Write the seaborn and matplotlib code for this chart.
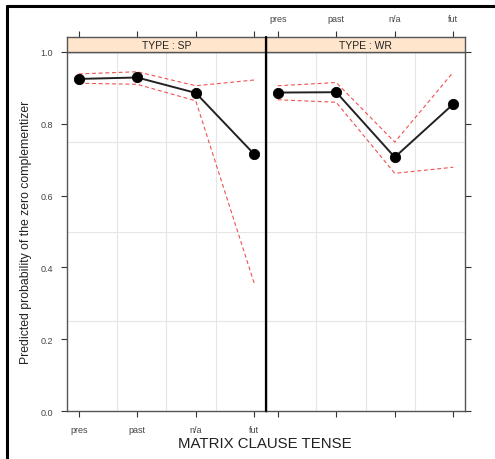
import matplotlib
matplotlib.use("Agg")
import matplotlib.pyplot as plt
import seaborn as sns
import numpy as np
import pandas as pd
from matplotlib.lines import Line2D

# ---- data ----
tenses = ["pres", "past", "n/a", "fut"]
types = ["SP", "WR"]
sp_fit = [0.925, 0.929, 0.886, 0.715]
sp_lower = [0.913, 0.910, 0.864, 0.355]
sp_upper = [0.939, 0.945, 0.906, 0.922]
wr_fit = [0.887, 0.888, 0.707, 0.855]
wr_lower = [0.867, 0.860, 0.662, 0.679]
wr_upper = [0.906, 0.915, 0.749, 0.944]
y_ticks = [0.0, 0.2, 0.4, 0.6, 0.8, 1.0]

sns.set_theme(style="white")
plt.rcParams["font.family"] = ["Liberation Sans", "DejaVu Sans"]

fig = plt.figure(figsize=(4.95, 4.6), dpi=100)

W, H = 495.0, 460.0
def ax_rect(x0, x1, y0, y1):
    return [x0 / W, 1 - y1 / H, (x1 - x0) / W, (y1 - y0) / H]

panels = {
    "SP": (sp_fit, sp_lower, sp_upper),
    "WR": (wr_fit, wr_lower, wr_upper),
}
xs_px = {"SP": (67, 266), "WR": (266, 465)}
top_px, bot_px, strip_top_px = 53, 412, 38
grey = "#555555"
tick_col = "#333333"
lab_col = "#444444"
strip_col = "#ffe5cc"
xlim = (0.8, 4.2)

for i, t in enumerate(types):
    fit, lo, up = panels[t]
    x0, x1 = xs_px[t]
    ax = fig.add_axes(ax_rect(x0, x1, top_px, bot_px))
    df = pd.DataFrame({"pos": np.arange(1, len(tenses) + 1), "fit": fit,
                       "lower": lo, "upper": up})
    for gx in [1.65, 2.5, 3.35]:
        ax.axvline(gx, color="#e6e6e6", lw=0.8, zorder=0)
    for gy in [0.25, 0.5, 0.75]:
        ax.axhline(gy, color="#e6e6e6", lw=0.8, zorder=0)
    sns.lineplot(data=df, x="pos", y="lower", ax=ax, color="#ee3333",
                 lw=0.8, linestyle=(0, (3.5, 2.5)), alpha=0.85)
    sns.lineplot(data=df, x="pos", y="upper", ax=ax, color="#ee3333",
                 lw=0.8, linestyle=(0, (3.5, 2.5)), alpha=0.85)
    sns.lineplot(data=df, x="pos", y="fit", ax=ax, color="#222222", lw=1.4)
    sns.scatterplot(data=df, x="pos", y="fit", ax=ax, color="black",
                    s=55, edgecolor="black", zorder=5)
    ax.set_xlim(*xlim)
    ax.set_ylim(0, 1)
    ax.set_xlabel("")
    ax.set_ylabel("")
    ax.set_xticks(df["pos"])
    ax.set_yticks(y_ticks)
    ax.set_yticklabels([f"{v:.1f}" for v in y_ticks])
    ax.set_xticklabels(tenses)
    for sp in ax.spines.values():
        sp.set_color(grey)
        sp.set_linewidth(1.0)
    ax.tick_params(axis="both", direction="out", length=4, width=0.8,
                   color=tick_col, labelsize=6.5, labelcolor=lab_col, pad=6)
    ax.tick_params(axis="x", top=False, labeltop=False)
    if i == 0:
        ax.tick_params(axis="x", bottom=True, labelbottom=True)
        ax.tick_params(axis="y", left=True, right=False, labelleft=True,
                       labelright=False)
        ax.set_ylabel("Predicted probability of the zero complementizer",
                      fontsize=8.8, color="#222222", labelpad=6)
    else:
        ax.tick_params(axis="x", bottom=True, labelbottom=False)
        ax.tick_params(axis="y", left=False, right=True, labelleft=False,
                       labelright=False)
    # strip with top axis ticks
    sax = fig.add_axes(ax_rect(x0, x1, strip_top_px, top_px))
    sax.set_facecolor(strip_col)
    sax.set_xlim(*xlim)
    sax.set_ylim(0, 1)
    sax.set_yticks([])
    sax.set_xticks(df["pos"])
    sax.set_xticklabels(tenses)
    sax.tick_params(axis="x", bottom=False, labelbottom=False, top=True,
                    labeltop=(i == 1), direction="out", length=4, width=0.8,
                    color=tick_col, labelsize=6.5, labelcolor=lab_col, pad=6)
    for sp in sax.spines.values():
        sp.set_color(grey)
        sp.set_linewidth(1.0)
    sax.text(0.5, 0.45, f"TYPE : {t}", ha="center", va="center",
             fontsize=7.5, color="#222222", transform=sax.transAxes)

# thick divider between panels
fig.add_artist(Line2D([266 / W, 266 / W], [1 - bot_px / H, 1 - strip_top_px / H],
                      color="black", lw=1.6, transform=fig.transFigure))

fig.text(265 / W, 1 - 444 / H, "MATRIX CLAUSE TENSE", ha="center",
         va="center", fontsize=10.8, color="#222222")

# frame border (cropped)
fig.add_artist(Line2D([7 / W, 7 / W], [0, 1 - 7 / H], color="black", lw=2.2,
                      transform=fig.transFigure))
fig.add_artist(Line2D([7 / W, 1], [1 - 7 / H, 1 - 7 / H], color="black", lw=2.2,
                      transform=fig.transFigure))

fig.savefig("out.png", dpi=100)
